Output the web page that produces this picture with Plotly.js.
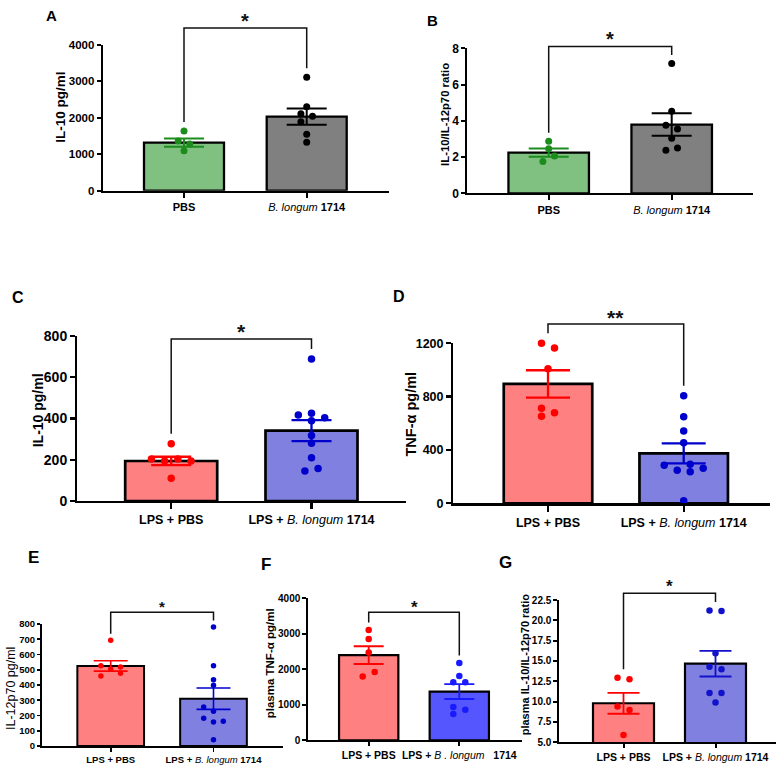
<!DOCTYPE html>
<html>
<head>
<meta charset="utf-8">
<script src="https://cdn.plot.ly/plotly-3.0.1.min.js"></script>
<style>
  html, body { margin: 0; padding: 0; background: #fff; }
  #fig { width: 776px; height: 771px; }
</style>
</head>
<body>
<div id="fig"></div>
<script>
// ---------- measured values (mean, SEM and individual animals) ----------
// A: IL-10 pg/ml
const aMean = [1320, 2035];
const aSem = [112, 224];
const aPbs = [1640, 1365, 1283, 1099];
const aBl = [3115, 2308, 2115, 2044, 1896, 1549, 1330];
// B: IL-10/IL-12p70 ratio
const bMean = [2.24, 3.79];
const bSem = [0.23, 0.62];
const bPbs = [2.87, 2.46, 2.06, 1.75];
const bBl = [7.16, 4.53, 3.76, 3.55, 3.04, 2.50, 2.38];
// C: IL-10 pg/ml after LPS
const cMean = [194, 341];
const cSem = [20.5, 51];
const cPbs = [278, 204, 194, 204, 194, 110];
const cBl = [688, 417, 425, 404, 389, 317, 280, 210, 145, 158];
// D: TNF-alpha pg/ml after LPS
const dMean = [895, 375];
const dSem = [103, 75];
const dPbs = [1200, 1165, 1010, 712, 652, 680];
const dBl = [807, 650, 542, 455, 285, 292, 247, 237, 262, 20];
// E: IL-12p70 pg/ml after LPS
const eMean = [525, 310];
const eSem = [34, 70];
const ePbs = [693, 527, 505, 518, 459, 477];
const eBl = [780, 527, 435, 398, 256, 228, 182, 157, 162, 41];
// F: plasma TNF-alpha pg/ml
const fMean = [2400, 1373];
const fSem = [250, 210];
const fPbs = [3107, 2853, 2475, 1797, 1921];
const fBl = [2175, 1808, 1638, 1638, 941, 864, 743];
// G: plasma IL-10/IL-12p70 ratio
const gMean = [9.80, 14.67];
const gSem = [1.29, 1.58];
const gPbs = [12.95, 12.75, 9.39, 8.98, 5.90];
const gBl = [21.2, 21.15, 15.94, 14.30, 13.98, 11.07, 11.05, 9.88];

// Tick labels
const ticksPlain = ['<b>PBS</b>', '<i>B. longum</i> <b>1714</b>'];
const ticksLps = ['<b>LPS + PBS</b>', '<b>LPS + </b><i>B. longum</i><b> 1714</b>'];
const ticksLpsF = ['<b>LPS + PBS</b>', '<b>LPS + </b><i>B . longum</i>\u00a0\u00a0\u00a0<b>1714</b>'];

// ---------- swarm slots (horizontal spread of the dots, in slot units) ----------
const aPbsSlot = [0, -1, 1, 0], aBlSlot = [0, 0, -1, 1, -1, 0, 0];
const bPbsSlot = [0, 0, 1, -1], bBlSlot = [0, 0, -1, 1, 0, 1, -1];
const cPbsSlot = [0, -3, -1, 1, 3, 0], cBlSlot = [0, -2, 0, 2, 0, 0, 0, 0, -1, 1];
const dPbsSlot = [-1, 1, 0, -1, -1, 1], dBlSlot = [0, 0, 0, 0, -3, 1, -1, 1, 3, 0];
const ePbsSlot = [0, -1, 0, 1, -1, 1], eBlSlot = [0, 0, 0, 0, -1, 0, -1, 0, 1, 0];
const fPbsSlot = [0, 0, 0, -1, 1], fBlSlot = [0, 0, -1, 1, -1, 1, -1];
const gPbsSlot = [-1, 1, -1, 1, 0], gBlSlot = [-1, 1, 0, -1, 1, -1, 1, 0];

// ---------- styling ----------
const W = 776, H = 771;
const FONT = 'Liberation Sans, Arial, sans-serif';
const GREEN = { fill: '#80c080', dot: '#1c8c1c' };
const GREY = { fill: '#808080', dot: '#000000' };
const RED = { fill: '#ff8080', dot: '#ff0000' };
const BLUE = { fill: '#8080e0', dot: '#0000cc' };
const BLUE_F = { fill: '#5656ff', dot: '#1a1aff' };
const BLUE_G = { fill: '#8080e0', dot: '#1212cc' };

const panels = [
  { letter: 'A', lx: 51.7, ly: 15.3, lfs: 15,
    left: 102.7, right: 389, top: 45, zero: 190.7, yrange: [0, 4000], dtick: 1000, fmt: '',
    centers: [184, 306.7], barW: 80, lw: 2, barLine: 2.3, errW: 2, cap: 20, ms: 7, slot: 5.8,
    ytfs: 11.5, xtfs: 11, yticklen: 4, xticklen: 5, ticktext: ticksPlain,
    title: 'IL-10 pg/ml', tx: 60.3, ty: 107.5, tfs: 13.5, tbold: true,
    star: '*', bracketAt: 4470, gap: 9, sy: 16.7, sfs: 20,
    groups: [
      { mean: aMean[0], sem: aSem[0], vals: aPbs, slots: aPbsSlot, c: GREEN },
      { mean: aMean[1], sem: aSem[1], vals: aBl, slots: aBlSlot, c: GREY } ] },
  { letter: 'B', lx: 432.5, ly: 20.5, lfs: 15,
    left: 467.3, right: 753.3, top: 48.3, zero: 193.3, yrange: [0, 8], dtick: 2, fmt: '',
    centers: [548.7, 671.7], barW: 80.5, lw: 2, barLine: 2.3, errW: 2, cap: 20, ms: 7, slot: 5.8,
    ytfs: 12, xtfs: 11, yticklen: 4, xticklen: 5, ticktext: ticksPlain,
    title: 'IL-10/IL-12p70 ratio', tx: 444.7, ty: 114.2, tfs: 11.3, tbold: true,
    star: '*', bracketAt: 8.1, gap: 8.5, sy: 34.3, sfs: 20,
    groups: [
      { mean: bMean[0], sem: bSem[0], vals: bPbs, slots: bPbsSlot, c: GREEN },
      { mean: bMean[1], sem: bSem[1], vals: bBl, slots: bBlSlot, c: GREY } ] },
  { letter: 'C', lx: 18.3, ly: 298, lfs: 16,
    left: 77.3, right: 406, top: 336, zero: 501, yrange: [0, 800], dtick: 200, fmt: '',
    centers: [171.2, 311.5], barW: 92, lw: 2.3, barLine: 2.7, errW: 2.3, cap: 20, ms: 7.5, slot: 6.6,
    ytfs: 14, xtfs: 12.5, yticklen: 5, xticklen: 6, ticktext: ticksLps,
    title: 'IL-10 pg/ml', tx: 37.5, ty: 410.8, tfs: 14, tbold: true,
    star: '*', bracketAt: 785, gap: 10, sy: 326.7, sfs: 21,
    groups: [
      { mean: cMean[0], sem: cSem[0], vals: cPbs, slots: cPbsSlot, c: RED },
      { mean: cMean[1], sem: cSem[1], vals: cBl, slots: cBlSlot, c: BLUE } ] },
  { letter: 'D', lx: 399, ly: 296.5, lfs: 16,
    left: 453.3, right: 770, top: 343.3, zero: 503.3, yrange: [0, 1200], dtick: 400, fmt: '',
    centers: [548, 683.7], barW: 88.5, lw: 2.3, barLine: 2.7, errW: 2.3, cap: 22, ms: 7.5, slot: 6.5,
    ytfs: 12.5, xtfs: 12.5, yticklen: 5, xticklen: 6, ticktext: ticksLps,
    title: 'TNF-α pg/ml', tx: 410.5, ty: 414, tfs: 14.5, tbold: true,
    star: '**', bracketAt: 1345, gap: 10, sy: 312.7, sfs: 21,
    groups: [
      { mean: dMean[0], sem: dSem[0], vals: dPbs, slots: dPbsSlot, c: RED },
      { mean: dMean[1], sem: dSem[1], vals: dBl, slots: dBlSlot, c: BLUE } ] },
  { letter: 'E', lx: 33, ly: 557, lfs: 17,
    left: 41.7, right: 283, top: 624, zero: 746, yrange: [0, 800], dtick: 100, fmt: '',
    centers: [110.7, 213.5], barW: 66.7, lw: 1.8, barLine: 2, errW: 1.6, cap: 17, ms: 5.5, slot: 9.8,
    ytfs: 9.5, xtfs: 9.5, yticklen: 3, xticklen: 4, ticktext: ticksLps,
    title: 'IL-12p70 pg/ml', tx: 11.7, ty: 688.3, tfs: 12.5, tbold: false,
    star: '*', bracketAt: 877, gap: 6.5, sy: 602.7, sfs: 15,
    groups: [
      { mean: eMean[0], sem: eSem[0], vals: ePbs, slots: ePbsSlot, c: RED },
      { mean: eMean[1], sem: eSem[1], vals: eBl, slots: eBlSlot, c: BLUE } ] },
  { letter: 'F', lx: 266, ly: 564, lfs: 17,
    left: 308.3, right: 522, top: 598.3, zero: 740.3, yrange: [0, 4000], dtick: 1000, fmt: '',
    centers: [368.7, 459.3], barW: 59.3, lw: 2, barLine: 2.2, errW: 1.8, cap: 15, ms: 6.5, slot: 6,
    ytfs: 10, xtfs: 10.5, yticklen: 4, xticklen: 4, ticktext: ticksLpsF,
    title: 'plasma TNF-α pg/ml', tx: 270, ty: 663.3, tfs: 11.5, tbold: true,
    star: '*', bracketAt: 3604, gap: 7.5, sy: 603.3, sfs: 17,
    groups: [
      { mean: fMean[0], sem: fSem[0], vals: fPbs, slots: fPbsSlot, c: RED },
      { mean: fMean[1], sem: fSem[1], vals: fBl, slots: fBlSlot, c: BLUE_F } ] },
  { letter: 'G', lx: 505, ly: 562, lfs: 17,
    left: 559.3, right: 776, top: 600, zero: 742.3, yrange: [5, 22.5], dtick: 2.5, fmt: '.1f',
    centers: [623.5, 715.5], barW: 61, lw: 2, barLine: 2.2, errW: 1.8, cap: 16, ms: 6.5, slot: 6,
    ytfs: 10, xtfs: 10.5, yticklen: 4, xticklen: 4, ticktext: ticksLps,
    title: 'plasma IL-10/IL-12p70 ratio', tx: 525.3, ty: 665, tfs: 11, tbold: true,
    star: '*', bracketAt: 23.33, gap: 8.5, sy: 582.7, sfs: 17,
    groups: [
      { mean: gMean[0], sem: gSem[0], vals: gPbs, slots: gPbsSlot, c: RED },
      { mean: gMean[1], sem: gSem[1], vals: gBl, slots: gBlSlot, c: BLUE_G } ] }
];

// ---------- build figure ----------
const traces = [];
const layout = {
  width: W, height: H,
  margin: { l: 0, r: 0, t: 0, b: 0, pad: 0 },
  paper_bgcolor: '#fff', plot_bgcolor: 'rgba(0,0,0,0)',
  barmode: 'overlay', showlegend: false,
  font: { family: FONT, color: '#000' },
  shapes: [], annotations: []
};

function pyFromValue(p, v) {
  const r0 = p.yrange[0], r1 = p.yrange[1];
  return p.zero - (v - r0) / (r1 - r0) * (p.zero - p.top);
}
function pxFromCat(p, i) {
  return p.centers[0] + i * (p.centers[1] - p.centers[0]);
}

panels.forEach((p, k) => {
  const n = k + 1;
  const xa = n === 1 ? 'x' : 'x' + n;
  const ya = n === 1 ? 'y' : 'y' + n;
  const step = p.centers[1] - p.centers[0];
  const xr = [-(p.centers[0] - p.left) / step, 1 + (p.right - p.centers[1]) / step];

  layout[n === 1 ? 'xaxis' : 'xaxis' + n] = {
    domain: [p.left / W, p.right / W], range: xr, anchor: ya,
    tickmode: 'array', tickvals: [0, 1], ticktext: p.ticktext,
    showline: true, linecolor: '#000', linewidth: p.lw,
    ticks: 'outside', ticklen: p.xticklen, tickwidth: p.lw, tickcolor: '#000',
    showgrid: false, zeroline: false, fixedrange: true,
    tickfont: { family: FONT, size: p.xtfs, color: '#000' }
  };
  layout[n === 1 ? 'yaxis' : 'yaxis' + n] = {
    domain: [1 - p.zero / H, 1 - p.top / H], range: p.yrange, anchor: xa,
    tickmode: 'linear', tick0: p.yrange[0], dtick: p.dtick, tickformat: p.fmt,
    showline: true, linecolor: '#000', linewidth: p.lw,
    ticks: 'outside', ticklen: p.yticklen, tickwidth: p.lw, tickcolor: '#000',
    showgrid: false, zeroline: false, fixedrange: true,
    tickfont: { family: FONT, size: p.ytfs, color: '#000', weight: 'bold' }
  };

  // bars with SEM
  p.groups.forEach((g, i) => {
    traces.push({
      type: 'bar', x: [i], y: [g.mean], width: p.barW / step,
      xaxis: xa, yaxis: ya, hoverinfo: 'skip',
      marker: { color: g.c.fill, line: { color: '#000', width: p.barLine } },
      error_y: { type: 'data', array: [g.sem], visible: true, color: g.c.dot, thickness: p.errW, width: p.cap }
    });
  });
  // individual animals
  p.groups.forEach((g, i) => {
    traces.push({
      type: 'scatter', mode: 'markers', cliponaxis: false,
      x: g.vals.map((v, j) => i + g.slots[j] * p.slot / step), y: g.vals,
      xaxis: xa, yaxis: ya, hoverinfo: 'skip',
      marker: { color: g.c.dot, size: p.ms, line: { width: 0 } }
    });
  });

  // significance bracket
  const legTop = p.groups.map(g => pyFromValue(p, Math.max(Math.max(...g.vals), g.mean + g.sem)) - p.gap);
  const topPx = pyFromValue(p, p.bracketAt);
  const x0 = pxFromCat(p, 0), x1 = pxFromCat(p, 1);
  layout.shapes.push({
    type: 'path', xref: 'paper', yref: 'paper',
    path: `M ${x0 / W} ${1 - legTop[0] / H} L ${x0 / W} ${1 - topPx / H} L ${x1 / W} ${1 - topPx / H} L ${x1 / W} ${1 - legTop[1] / H}`,
    line: { color: '#111', width: 1.5 }
  });
  layout.annotations.push({
    xref: 'paper', yref: 'paper', x: (x0 + x1) / 2 / W, y: 1 - (p.sy + p.sfs * 0.22) / H,
    xanchor: 'center', yanchor: 'middle', showarrow: false, text: p.star,
    font: { family: FONT, size: p.sfs, color: '#111', weight: 'bold' }
  });

  // y-axis title
  layout.annotations.push({
    xref: 'paper', yref: 'paper', x: p.tx / W, y: 1 - p.ty / H,
    xanchor: 'center', yanchor: 'middle', showarrow: false, textangle: -90,
    text: p.title,
    font: { family: FONT, size: p.tfs, color: '#000', weight: p.tbold ? 'bold' : 'normal' }
  });

  // panel letter
  layout.annotations.push({
    xref: 'paper', yref: 'paper', x: p.lx / W, y: 1 - p.ly / H,
    xanchor: 'center', yanchor: 'middle', showarrow: false, text: p.letter,
    font: { family: FONT, size: p.lfs, color: '#000', weight: 'bold' }
  });
});

Plotly.newPlot('fig', traces, layout, { staticPlot: true, displayModeBar: false });
</script>
</body>
</html>
